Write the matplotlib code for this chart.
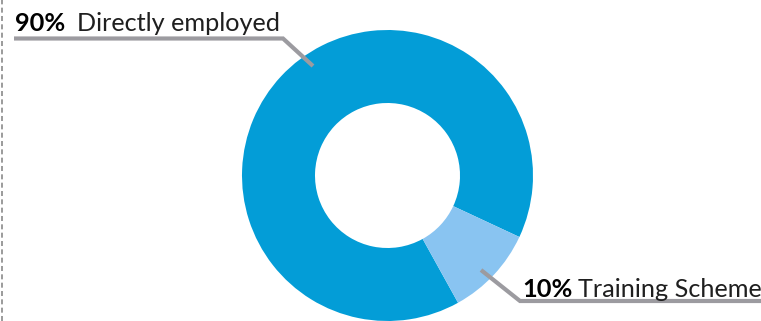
import matplotlib.pyplot as plt

# Data
labels = ['Directly employed', 'Training Scheme']
shares = [90, 10]
pct_labels = ['90%', '10%']
colors = ['#039DD7', '#89C4F1']

W, H = 761, 321
fig = plt.figure(figsize=(W / 100, H / 100), dpi=100)
ax = fig.add_axes([0, 0, 1, 1])

cx, cy = 387.5, H - 175.5
ax.pie(shares, colors=colors, startangle=-25, counterclock=True,
       radius=145.5, center=(cx, cy), frame=True,
       wedgeprops=dict(width=73, linewidth=0))
ax.set_xlim(0, W)
ax.set_ylim(0, H)
ax.set_aspect('equal')
ax.axis('off')

# dashed border on the left
ax.plot([2, 2], [0, H], color='#8a8a8a', lw=1.2, ls=(0, (3, 2)))

lc = '#9C9BA0'
# leader line for Directly employed
ax.plot([14, 283, 313], [H - 38.5, H - 38.5, H - 66], color=lc, lw=3,
        solid_capstyle='butt', solid_joinstyle='miter')
# leader line for Training Scheme
ax.plot([481, 520, W], [H - 270, H - 301, H - 301], color=lc, lw=3,
        solid_capstyle='butt', solid_joinstyle='miter')

fam = ['Lato', 'DejaVu Sans']
ax.text(15, H - 31, pct_labels[0], fontsize=18.3, family=fam, color='black',
        fontweight='bold', va='baseline')
ax.text(77, H - 31, labels[0], fontsize=18.2, family=fam, color='#1f1f1f',
        fontweight='normal', va='baseline')
ax.text(522, H - 297, pct_labels[1], fontsize=18.3, family=fam, color='black',
        fontweight='bold', va='baseline')
ax.text(578, H - 297, labels[1], fontsize=18.2, family=fam, color='#1f1f1f',
        fontweight='normal', va='baseline')

fig.savefig('out.png', dpi=100)
